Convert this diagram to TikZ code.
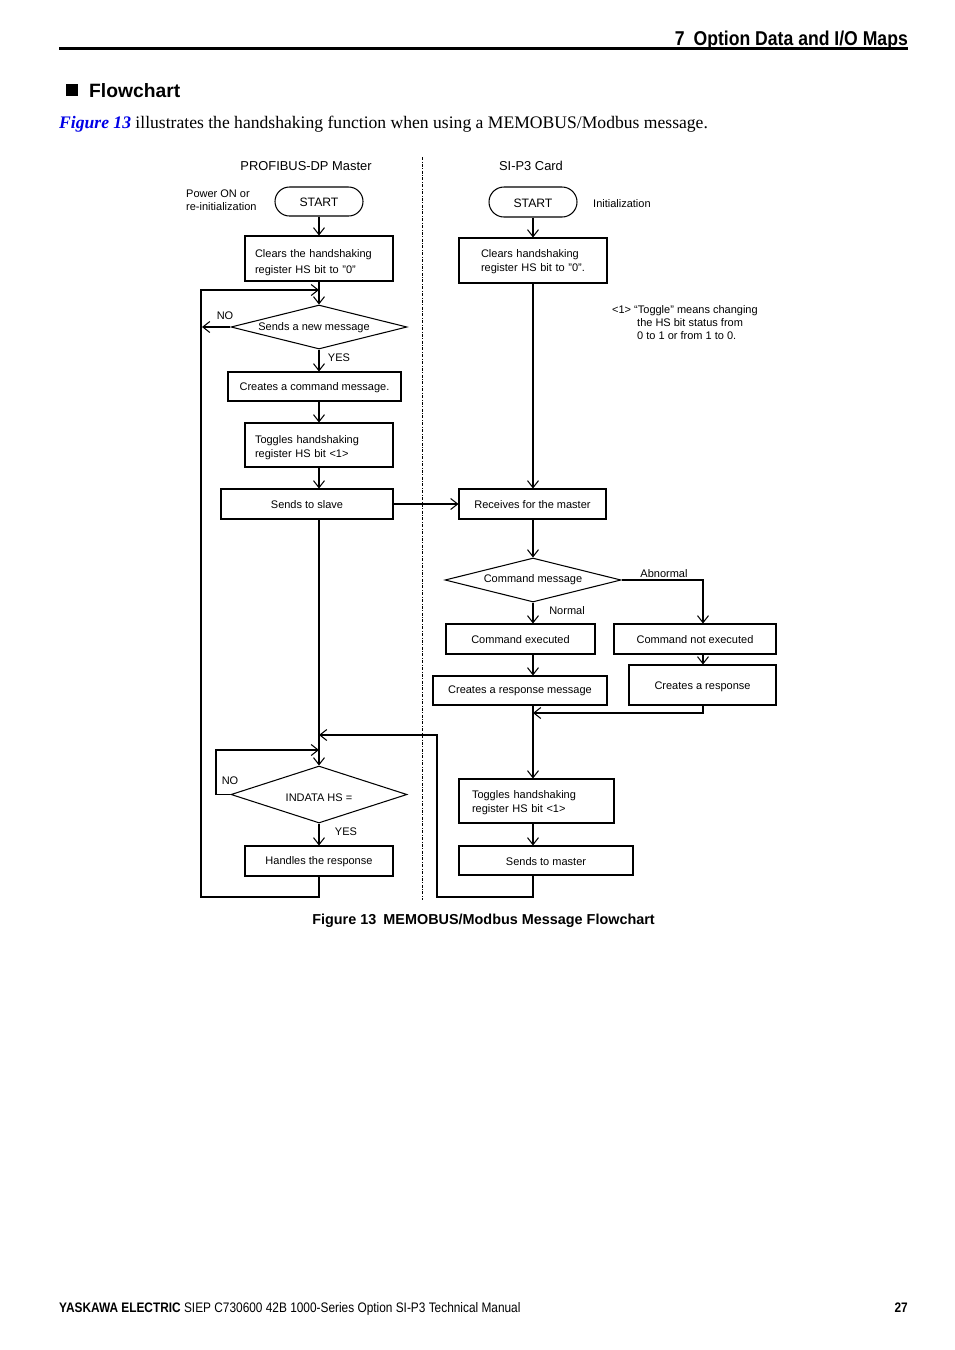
\documentclass[tikz,border=0pt]{standalone}
\usepackage{fontspec}
\setmainfont{Liberation Serif}
\setsansfont{Liberation Sans}
\newfontfamily\narrowsans[FakeStretch=0.86]{Liberation Sans}
\newfontfamily\narrowhdr[FakeStretch=0.88]{Liberation Sans}
\usetikzlibrary{arrows.meta,shapes.geometric,calc}
\definecolor{figblue}{RGB}{0,0,230}
\newcommand\dgfont{\sffamily\fontsize{11}{14}\selectfont}
\newcommand\ttlfont{\sffamily\fontsize{12.9}{15}\selectfont}
\begin{document}
\begin{tikzpicture}[x=1pt,y=-1pt,
  every node/.style={font=\dgfont, inner sep=0pt},
  box/.style={draw, line width=1.05pt, minimum height=30pt, align=center},
  lbox/.style={draw, line width=1.05pt, align=left},
  dia/.style={draw, diamond, aspect=4, line width=1.05pt, inner sep=0pt},
  term/.style={draw, rounded corners=14.5pt, line width=1.05pt, minimum width=88pt, minimum height=29pt, font=\sffamily\fontsize{12.2}{14}\selectfont},
  flow/.style={line width=1.05pt, -{Straight Barb[length=7pt,width=11pt,line width=1.05pt]}},
  ]
\useasboundingbox (0,0) rectangle (954,1350);
% page header
\node[anchor=base east, font=\narrowhdr\bfseries\fontsize{20}{24}\selectfont] (hdr) at (908,45.5) {7\hspace{0.45em}Option Data and I/O Maps};
\draw[line width=3pt] (59,48.5) -- (908,48.5);
\fill (66,84) rectangle (78,96);
\node[anchor=base west, font=\sffamily\bfseries\fontsize{19.3}{23}\selectfont] (fc) at (89,97) {Flowchart};
\node[anchor=base west, font=\rmfamily\fontsize{17.6}{20}\selectfont] (body) at (59,128) {\textcolor{figblue}{\bfseries\itshape Figure 13} illustrates the handshaking function when using a MEMOBUS/Modbus message.};
% column titles and separator
\node[font=\ttlfont] (t1) at (306,166) {PROFIBUS-DP Master};
\node[font=\ttlfont] (t2) at (531,166) {SI-P3 Card};
\draw[line width=0.8pt, dash pattern=on 3pt off 1.5pt on 0.8pt off 1.5pt] (422,157) -- (422,900);
% left column
\node[term] (st1) at (319,201.5) {\rule{0pt}{11pt}START};
\node[anchor=west, align=left, font=\sffamily\fontsize{11}{13}\selectfont] (pw) at (186,200.5) {Power ON or\\re-initialization};
\node[lbox, text width=128pt, inner xsep=10pt, minimum height=45pt, font=\sffamily\fontsize{11}{16}\selectfont] (b1) at (319,258.5) {\rule{0pt}{16pt}Clears the handshaking\\register HS bit to "0"};
\node[dia, minimum width=176pt, minimum height=44pt] (d1) at (319,327) {\hspace*{-10pt}\rule{0pt}{10pt}Sends a new message};
\node (no1) at (225,316) {NO};
\node (yes1) at (339,358) {YES};
\node[box, minimum width=173pt, minimum height=29pt] (b2) at (314.5,386.5) {\rule{0pt}{10pt}Creates a command message.};
\node[lbox, text width=128pt, inner xsep=10pt, minimum height=44pt] (b3) at (319,445) {\rule{0pt}{13pt}Toggles handshaking\\register HS bit <1>};
\node[box, minimum width=172pt] (b4) at (307,504) {\rule{0pt}{10pt}Sends to slave};
\node[dia, minimum width=176pt, minimum height=57pt] (d2) at (319,794.5) {\rule{0pt}{14pt}INDATA HS =};
\node (no2) at (230,781) {NO};
\node (yes2) at (346,832) {YES};
\node[box, minimum width=148pt] (b5) at (319,861) {\rule{0pt}{10pt}Handles the response};
% right column
\node[term, minimum height=30pt, rounded corners=15pt] (st2) at (533,202) {\rule{0pt}{11pt}START};
\node[anchor=west] (init) at (593,204) {Initialization};
\node[lbox, text width=104pt, inner xsep=22pt, minimum height=45pt] (c1) at (533,260.5) {\rule{0pt}{10pt}Clears handshaking\\register HS bit to "0".};
\node[anchor=north west, align=left, font=\sffamily\fontsize{11}{13}\selectfont] (note) at (612,305) {<1> “Toggle” means changing\\\hspace*{25pt}the HS bit status from\\\hspace*{25pt}0 to 1 or from 1 to 0.};
\node[box, minimum width=147pt] (r1) at (532.5,504) {\rule{0pt}{10pt}Receives for the master};
\node[dia, minimum width=176pt, minimum height=44pt] (d3) at (533,580) {Command message};
\node (normal) at (567,611) {Normal};
\node (abn) at (664,574) {Abnormal};
\node[box, minimum width=149pt] (ce) at (520.5,639) {\rule{0pt}{10pt}Command executed};
\node[box, minimum width=162pt] (cne) at (695,639) {\rule{0pt}{10pt}Command not executed};
\node[box, minimum width=174pt, minimum height=29pt] (crm) at (520,690.5) {\rule{0pt}{9pt}Creates a response message};
\node[box, minimum width=147pt, minimum height=40pt] (cr) at (702.5,685) {\rule{0pt}{12pt}Creates a response};
\node[lbox, text width=129pt, inner xsep=13pt, minimum height=44pt] (tg2) at (536.5,801) {\rule{0pt}{12pt}Toggles handshaking\\register HS bit <1>};
\node[box, minimum width=174pt, minimum height=29pt] (sm) at (546,860.5) {\rule{0pt}{10pt}Sends to master};
% caption and footer
\node[font=\sffamily\bfseries\fontsize{14.4}{17}\selectfont] (cap) at (483.5,920.5) {Figure 13\hspace{0.5em}MEMOBUS/Modbus Message Flowchart};
\node[anchor=base west, font=\narrowsans\fontsize{13.8}{16}\selectfont] (foot) at (59,1312) {{\bfseries YASKAWA ELECTRIC} SIEP C730600 42B 1000-Series Option SI-P3 Technical Manual};
\node[anchor=base east, font=\narrowsans\bfseries\fontsize{13.8}{16}\selectfont] (pg) at (908,1312) {27};
% helper coordinates
\coordinate (lpA) at (201,897);
\coordinate (lpB) at (201,290);
\coordinate (lpC) at (319,290);
\coordinate (noEnd) at (202,327);
\coordinate (n2A) at (216,794.5);
\coordinate (n2B) at (216,750);
\coordinate (n2C) at (319,750);
\coordinate (rtA) at (533,897);
\coordinate (rtB) at (437,897);
\coordinate (rtC) at (437,735);
\coordinate (rtD) at (319,735);
\coordinate (ab) at (703,580);
\coordinate (mrg) at (533,713);
% left connectors
\draw[flow] (st1) -- (b1);
\draw[flow] (b1.south) -- (d1.north);
\draw[flow] (b5.south) -- (b5.south |- lpA) -- (lpA) -- (lpB) -- (lpC);
\draw[flow] (d1.west) -- (noEnd);
\draw[flow] (d1.south) -- (d1.south |- b2.north);
\draw[flow] (d1.south |- b2.south) -- (b3.north);
\draw[flow] (b3.south) -- (b3.south |- b4.north);
\draw[flow] (b4.east) -- (r1.west);
\draw[flow] (b3.south |- b4.south) -- (d2.north);
\draw[flow] (d2.west) -- (n2A) -- (n2B) -- (n2C);
\draw[flow] (d2.south) -- (b5.north);
% right connectors
\draw[flow] (st2) -- (c1);
\draw[flow] (c1.south) -- (c1.south |- r1.north);
\draw[flow] (c1.south |- r1.south) -- (d3.north);
\draw[flow] (d3.south) -- (d3.south |- ce.north);
\draw[flow] (d3.east) -- (ab) -- (ab |- cne.north);
\draw[flow] (d3.south |- ce.south) -- (d3.south |- crm.north);
\draw[flow] (ab |- cne.south) -- (ab |- cr.north);
\draw[flow] (ab |- cr.south) -- (ab |- mrg) -- (mrg);
\draw[flow] (d3.south |- crm.south) -- (d3.south |- tg2.north);
\draw[flow] (d3.south |- tg2.south) -- (d3.south |- sm.north);
\draw[flow] (rtA |- sm.south) -- (rtA) -- (rtB) -- (rtC) -- (rtD);
\end{tikzpicture}
\end{document}
